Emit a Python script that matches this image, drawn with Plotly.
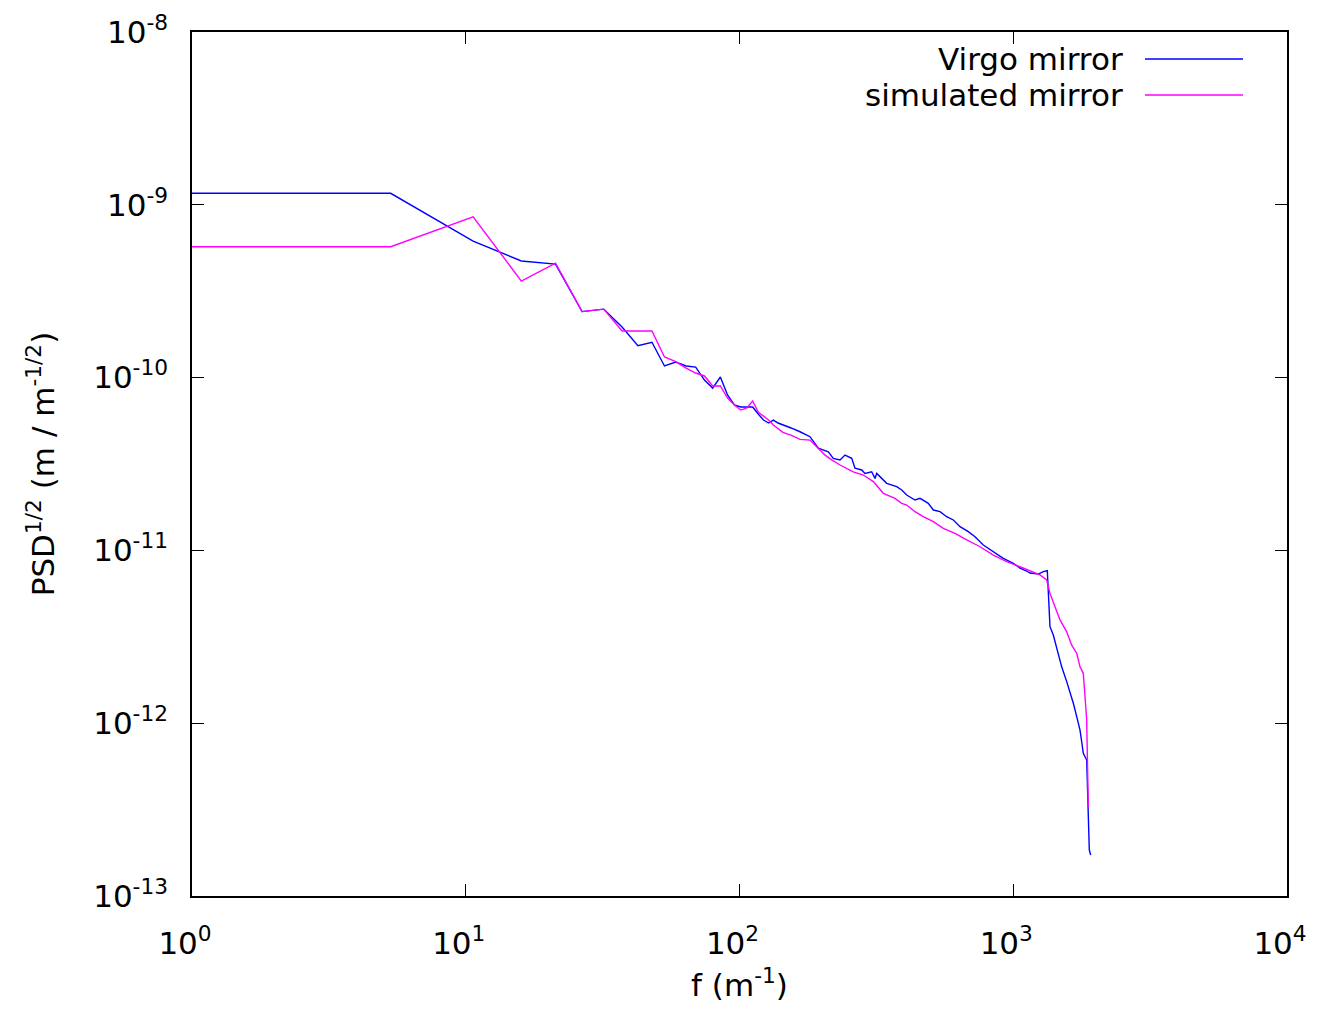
import plotly.graph_objects as go

# Virgo mirror (blue)
virgo_f = [1, 5.32, 10.64, 15.96, 21.28, 26.6, 31.92, 37.24, 42.56, 47.88,
           53.2, 58.52, 63.84, 69.16, 74.48, 79.8, 85.12, 90.44, 95.76, 101.08,
           106.4, 111.72, 117.04, 122.36, 127.68, 133.0, 138.3, 143.6, 148.96, 154.3,
           166.3, 180.9, 194.0, 211.1, 220.1, 232.9, 242.9, 257.0, 264.2, 279.5,
           287.3, 304.0, 312.6, 317.1, 344.9, 375.2, 391.3, 408.1, 437.6, 456.4,
           489.4, 510.6, 540.0, 571.3, 604.0, 639.1, 685.1, 725.0, 777.3, 845.6,
           919.8, 1000.5, 1058.5, 1119.6, 1151.5, 1234.6, 1287.6, 1331.6,
           1342.7, 1362, 1400.5, 1441, 1503, 1567.6, 1612, 1657.5, 1705.5, 1728.8,
           1753.3, 1778.3, 1802.6, 1854.8, 1879.9, 1895.9, 1918.3]
virgo_psd = [1.166e-9, 1.166e-9, 6.17e-10, 4.73e-10, 4.54e-10, 2.41e-10, 2.49e-10, 1.963e-10, 1.530e-10, 1.601e-10,
             1.167e-10, 1.231e-10, 1.167e-10, 1.151e-10, 9.68e-11, 8.70e-11, 1.008e-10, 7.93e-11, 6.94e-11, 6.76e-11,
             6.76e-11, 6.76e-11, 6.16e-11, 5.68e-11, 5.46e-11, 5.68e-11, 5.46e-11, 5.32e-11, 5.18e-11, 5.11e-11,
             4.86e-11, 4.55e-11, 3.90e-11, 3.72e-11, 3.41e-11, 3.34e-11, 3.56e-11, 3.41e-11, 2.99e-11, 2.92e-11,
             2.79e-11, 2.85e-11, 2.61e-11, 2.79e-11, 2.445e-11, 2.34e-11, 2.236e-11, 2.092e-11, 1.957e-11, 2.00e-11,
             1.873e-11, 1.713e-11, 1.675e-11, 1.567e-11, 1.500e-11, 1.372e-11, 1.284e-11, 1.20e-11, 1.075e-11, 9.83e-12,
             9.00e-12, 8.42e-12, 7.90e-12, 7.60e-12, 7.40e-12, 7.30e-12, 7.53e-12, 7.63e-12,
             5.90e-12, 3.62e-12, 3.24e-12, 2.71e-12, 2.12e-12, 1.74e-12, 1.522e-12, 1.304e-12, 1.091e-12, 1.003e-12,
             9.13e-13, 7.81e-13, 6.70e-13, 6.12e-13, 3.29e-13, 1.846e-13, 1.727e-13]

# simulated mirror (magenta)
sim_f = [1, 5.32, 10.64, 15.96, 21.28, 26.6, 31.92, 37.24, 42.56, 47.88,
         53.2, 58.52, 63.84, 69.16, 74.48, 79.8, 85.12, 90.44, 95.76, 101.08,
         106.4, 111.72, 117.04, 122.36, 127.68, 133.0, 138.3, 143.6, 148.96, 154.3,
         166.3, 180.9, 191.4, 205.3, 217.2, 232.9, 260.4, 283.4, 308.2, 335.2,
         369.8, 391.3, 408.1, 437.6, 469.3, 510.6, 555.3, 612.7, 676.1, 756.2,
         845.6, 946.4, 1058.5, 1120, 1184, 1252, 1325, 1362, 1420.8,
         1482, 1567.6, 1635, 1705.5, 1753.3, 1802.6, 1829, 1854.8, 1879.9]
sim_psd = [5.72e-10, 5.72e-10, 8.53e-10, 3.62e-10, 4.59e-10, 2.41e-10, 2.49e-10, 1.861e-10, 1.861e-10, 1.861e-10,
           1.316e-10, 1.236e-10, 1.136e-10, 1.063e-10, 1.022e-10, 8.94e-11, 8.94e-11, 7.62e-11, 6.94e-11, 6.49e-11,
           6.67e-11, 7.32e-11, 6.32e-11, 5.99e-11, 5.68e-11, 5.32e-11, 5.04e-11, 4.84e-11, 4.72e-11, 4.65e-11,
           4.39e-11, 4.35e-11, 3.98e-11, 3.56e-11, 3.34e-11, 3.12e-11, 2.85e-11, 2.73e-11, 2.50e-11, 2.14e-11,
           2.00e-11, 1.873e-11, 1.83e-11, 1.675e-11, 1.567e-11, 1.466e-11, 1.342e-11, 1.256e-11, 1.149e-11, 1.05e-11,
           9.40e-12, 8.60e-12, 8.04e-12, 7.75e-12, 7.50e-12, 7.21e-12, 6.74e-12, 5.64e-12, 4.72e-12,
           3.96e-12, 3.38e-12, 2.83e-12, 2.54e-12, 2.12e-12, 1.944e-12, 1.362e-12, 1.043e-12, 3.29e-13]

x_tickvals = [1, 10, 100, 1000, 10000]
x_ticktext = ["10<sup>0</sup>", "10<sup>1</sup>", "10<sup>2</sup>", "10<sup>3</sup>", "10<sup>4</sup>"]
y_tickvals = [1e-13, 1e-12, 1e-11, 1e-10, 1e-9, 1e-8]
y_ticktext = ["10<sup>-13</sup>", "10<sup>-12</sup>", "10<sup>-11</sup>", "10<sup>-10</sup>", "10<sup>-9</sup>", "10<sup>-8</sup>"]

legend_names = ["Virgo mirror", "simulated mirror"]
colors = ["#0000ff", "#ff00ff"]

FONT = "DejaVu Sans"

fig = go.Figure()
fig.add_trace(go.Scatter(x=virgo_f, y=virgo_psd, mode="lines", name=legend_names[0],
                         line=dict(color=colors[0], width=1.4)))
fig.add_trace(go.Scatter(x=sim_f, y=sim_psd, mode="lines", name=legend_names[1],
                         line=dict(color=colors[1], width=1.4)))

axis_common = dict(showline=True, linecolor="black", linewidth=1.5, mirror="ticks",
                   ticks="inside", ticklen=12, tickwidth=1.2, tickcolor="black",
                   showgrid=False, zeroline=False, automargin=False,
                   ticklabeloverflow="allow",
                   tickfont=dict(family=FONT, size=31, color="black"))

fig.update_xaxes(type="log", range=[0, 4], tickvals=x_tickvals, ticktext=x_ticktext,
                 ticklabelstandoff=19, ticklabelshift=-7,
                 title=dict(text="f (m<sup>-1</sup>)", font=dict(family=FONT, size=31, color="black"),
                            standoff=25),
                 **axis_common)
fig.update_yaxes(type="log", range=[-13, -8], tickvals=y_tickvals, ticktext=y_ticktext,
                 ticklabelstandoff=16,
                 title=dict(text="PSD<sup>1/2</sup> (m / m<sup>-1/2</sup>)",
                            font=dict(family=FONT, size=31, color="black"), standoff=29),
                 **axis_common)

# legend drawn gnuplot-style: text right-aligned, sample line to the right
leg_y = [0.9688, 0.927]
for name, col, yy in zip(legend_names, colors, leg_y):
    fig.add_annotation(xref="paper", yref="paper", x=0.852, y=yy, text=name,
                       showarrow=False, xanchor="right", yanchor="middle",
                       font=dict(family=FONT, size=31, color="black"))
    fig.add_shape(type="line", xref="paper", yref="paper", x0=0.8703, x1=0.9598, y0=yy, y1=yy,
                  line=dict(color=col, width=1.4))

fig.update_layout(width=1304, height=995, showlegend=False,
                  plot_bgcolor="white", paper_bgcolor="white",
                  margin=dict(l=184, r=25, t=24, b=107),
                  font=dict(family=FONT, size=31, color="black"))

fig.write_html("out.html")
